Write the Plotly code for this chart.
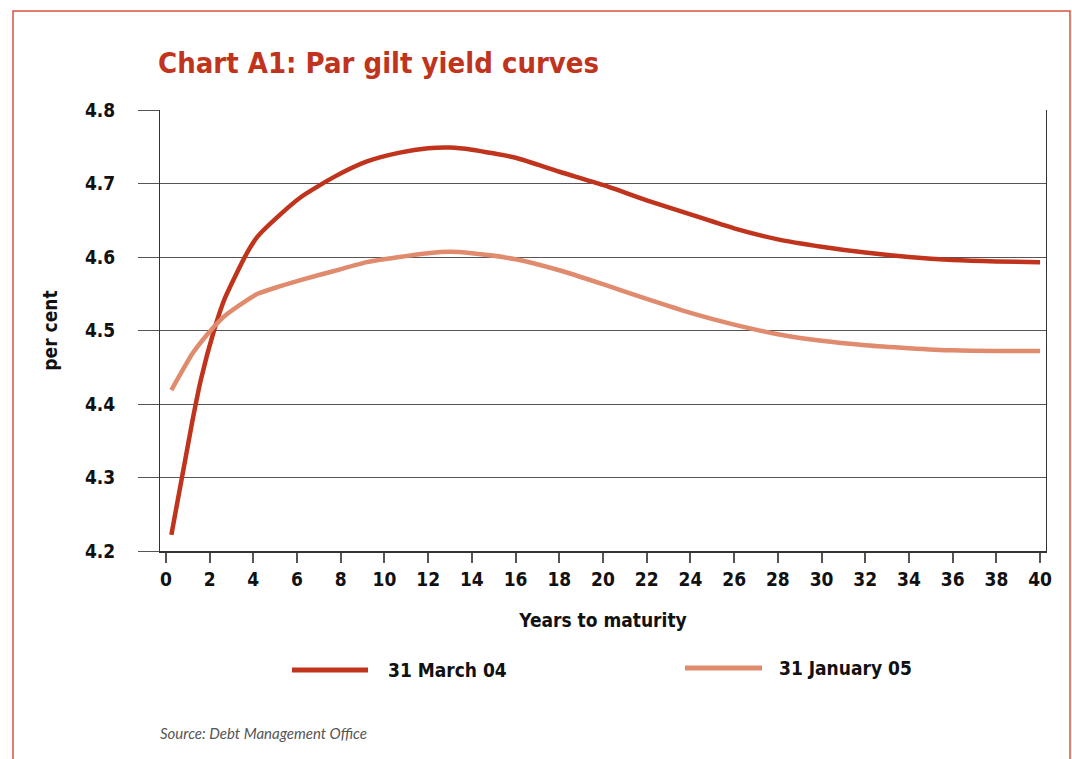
import plotly.graph_objects as go

# years to maturity
years = [0.25, 1.2, 1.6, 2.2, 2.7, 3.7, 4.2, 5.2, 6.2, 7.7, 9.2, 10.7, 12, 13, 14, 16, 18, 20,
         22, 24, 26, 28, 30, 32, 34, 36, 38, 40]
# par gilt yields, per cent
march_04 = [4.222, 4.375, 4.433, 4.50, 4.544, 4.605, 4.628, 4.657, 4.682, 4.709, 4.730, 4.742,
            4.748, 4.749, 4.746, 4.735, 4.716, 4.698, 4.677, 4.658, 4.639, 4.624, 4.614, 4.606,
            4.600, 4.596, 4.594, 4.593]
january_05 = [4.419, 4.468, 4.484, 4.505, 4.52, 4.541, 4.550, 4.560, 4.569, 4.581, 4.593, 4.600,
              4.605, 4.607, 4.605, 4.597, 4.582, 4.563, 4.543, 4.524, 4.508, 4.495, 4.486, 4.480,
              4.476, 4.473, 4.472, 4.472]

x_ticks = list(range(0, 41, 2))
y_ticks = [4.2, 4.3, 4.4, 4.5, 4.6, 4.7, 4.8]

dark_red = "#C0341D"
salmon = "#E08B6E"
frame_red = "#D9533E"
narrow = "DejaVu Sans Condensed, Roboto, sans-serif"

fig = go.Figure()

fig.add_trace(go.Scatter(x=years, y=march_04, mode="lines", name="31 March 04",
                         line=dict(color=dark_red, width=4.5, shape="spline", smoothing=0.6)))
fig.add_trace(go.Scatter(x=years, y=january_05, mode="lines", name="31 January 05",
                         line=dict(color=salmon, width=4.5, shape="spline", smoothing=0.6)))

fig.update_layout(
    width=1072, height=759,
    margin=dict(l=160, r=26, t=110, b=208),
    paper_bgcolor="white", plot_bgcolor="white",
    showlegend=False,
    font=dict(family=narrow, color="#111111"),
    title=dict(text="<b>Chart A1: Par gilt yield curves</b>", x=158 / 1072, xanchor="left",
               y=1 - 63 / 759, yanchor="middle",
               font=dict(family=narrow, size=29, color=dark_red)),
)

fig.update_xaxes(
    range=[-0.27, 40.27], tickvals=x_ticks,
    tickfont=dict(family=narrow, size=19, color="#111111", weight="bold"),
    showgrid=False, zeroline=False,
    showline=True, linecolor="#333333", linewidth=2,
    ticks="outside", ticklen=10, tickcolor="#555555", tickwidth=2,
    title=dict(text="<b>Years to maturity</b>", font=dict(family=narrow, size=19, color="#111111"),
               standoff=25),
)
fig.update_yaxes(
    range=[4.2, 4.8], tickvals=y_ticks, tickformat=".1f",
    tickfont=dict(family=narrow, size=19, color="#111111", weight="bold"),
    showgrid=True, gridcolor="#555555", gridwidth=1, zeroline=False,
    showline=True, linecolor="#333333", linewidth=1, mirror=True,
    ticks="outside", ticklen=21, tickcolor="#555555", tickwidth=1,
    ticklabelstandoff=19,
    title=dict(text="<b>per cent</b>", font=dict(family=narrow, size=19, color="#111111"),
               standoff=22),
)

# outer frame
pw, ph = 886, 441
fig.add_shape(type="rect", xref="paper", yref="paper",
              x0=(13 - 160) / pw, x1=(1070 - 160) / pw,
              y0=(551 - 800) / ph, y1=(551 - 11) / ph,
              line=dict(color=frame_red, width=1.5), fillcolor="rgba(0,0,0,0)", layer="below")

# legend drawn below the axis
legend_items = [("31 March 04", dark_red, 292, 368, 386, 670),
                ("31 January 05", salmon, 685, 762, 777, 668)]
for label, colour, lx0, lx1, tx, ly in legend_items:
    yp = (551 - ly) / ph
    fig.add_shape(type="line", xref="paper", yref="paper",
                  x0=(lx0 - 160) / pw, x1=(lx1 - 160) / pw, y0=yp, y1=yp,
                  line=dict(color=colour, width=5))
    fig.add_annotation(text="<b>" + label + "</b>", xref="paper", yref="paper",
                       x=(tx - 160) / pw, y=yp, xanchor="left", yanchor="middle", showarrow=False,
                       font=dict(family=narrow, size=19, color="#111111"))

fig.add_annotation(text="<i>Source: Debt Management Office</i>", xref="paper", yref="paper",
                   x=-2 / pw, y=(551 - 733) / ph, xanchor="left", yanchor="middle", showarrow=False,
                   font=dict(family="Lato", size=15, color="#555555"))

fig.write_html("out.html", config={"displayModeBar": False},
               post_script="document.body.style.margin='0';")
